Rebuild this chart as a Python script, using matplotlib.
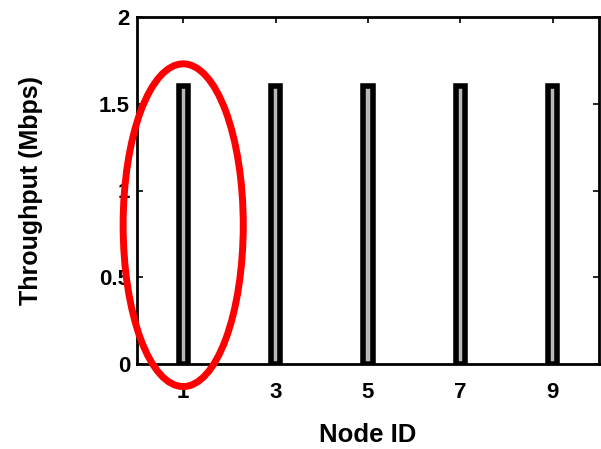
import numpy as np
import matplotlib
matplotlib.use('Agg')
import matplotlib.pyplot as plt
from matplotlib.patches import Ellipse

# datos del grafico
nodos = [1, 3, 5, 7, 9]
throughput = [1.6, 1.6, 1.6, 1.6, 1.6]
ticks_x = [1, 3, 5, 7, 9]
ticks_y = [0, 0.5, 1, 1.5, 2]
etiquetas_y = ['0', '0.5', '1', '1.5', '2']
nodo_marcado = 1

plt.rcParams['font.family'] = ['Liberation Sans', 'DejaVu Sans']
plt.rcParams['font.weight'] = 'bold'

fig = plt.figure(figsize=(6.01, 4.49), dpi=100)
ax = fig.add_axes([137/601, 1-364/449, 462/601, 347/449])

ax.bar(nodos, throughput, width=0.2, facecolor='#b8b8b8', edgecolor='black', linewidth=4, zorder=3)

ax.set_xlim(0, 10)
ax.set_ylim(0, 2)
ax.set_xticks(ticks_x)
ax.set_xticklabels([str(n) for n in ticks_x])
ax.set_yticks(ticks_y)
ax.set_yticklabels(etiquetas_y)
ax.tick_params(direction='in', top=True, right=True, length=4, width=1.2, labelsize=16)
ax.tick_params(axis='x', pad=13)
ax.tick_params(axis='y', pad=5)
for lado in ax.spines.values():
    lado.set_linewidth(2)

ax.set_xlabel('Node ID', fontsize=18.5, fontweight='bold', labelpad=14)
ax.set_ylabel('Throughput (Mbps)', fontsize=18, fontweight='bold', labelpad=40)

# elipse roja que marca el nodo 1
i = nodos.index(nodo_marcado)
elipse = Ellipse((nodo_marcado, throughput[i]/2), width=2.6, height=1.86,
                 fill=False, edgecolor='#ff0000', linewidth=5, clip_on=False, zorder=5)
ax.add_patch(elipse)

fig.savefig('out.png', dpi=100)
